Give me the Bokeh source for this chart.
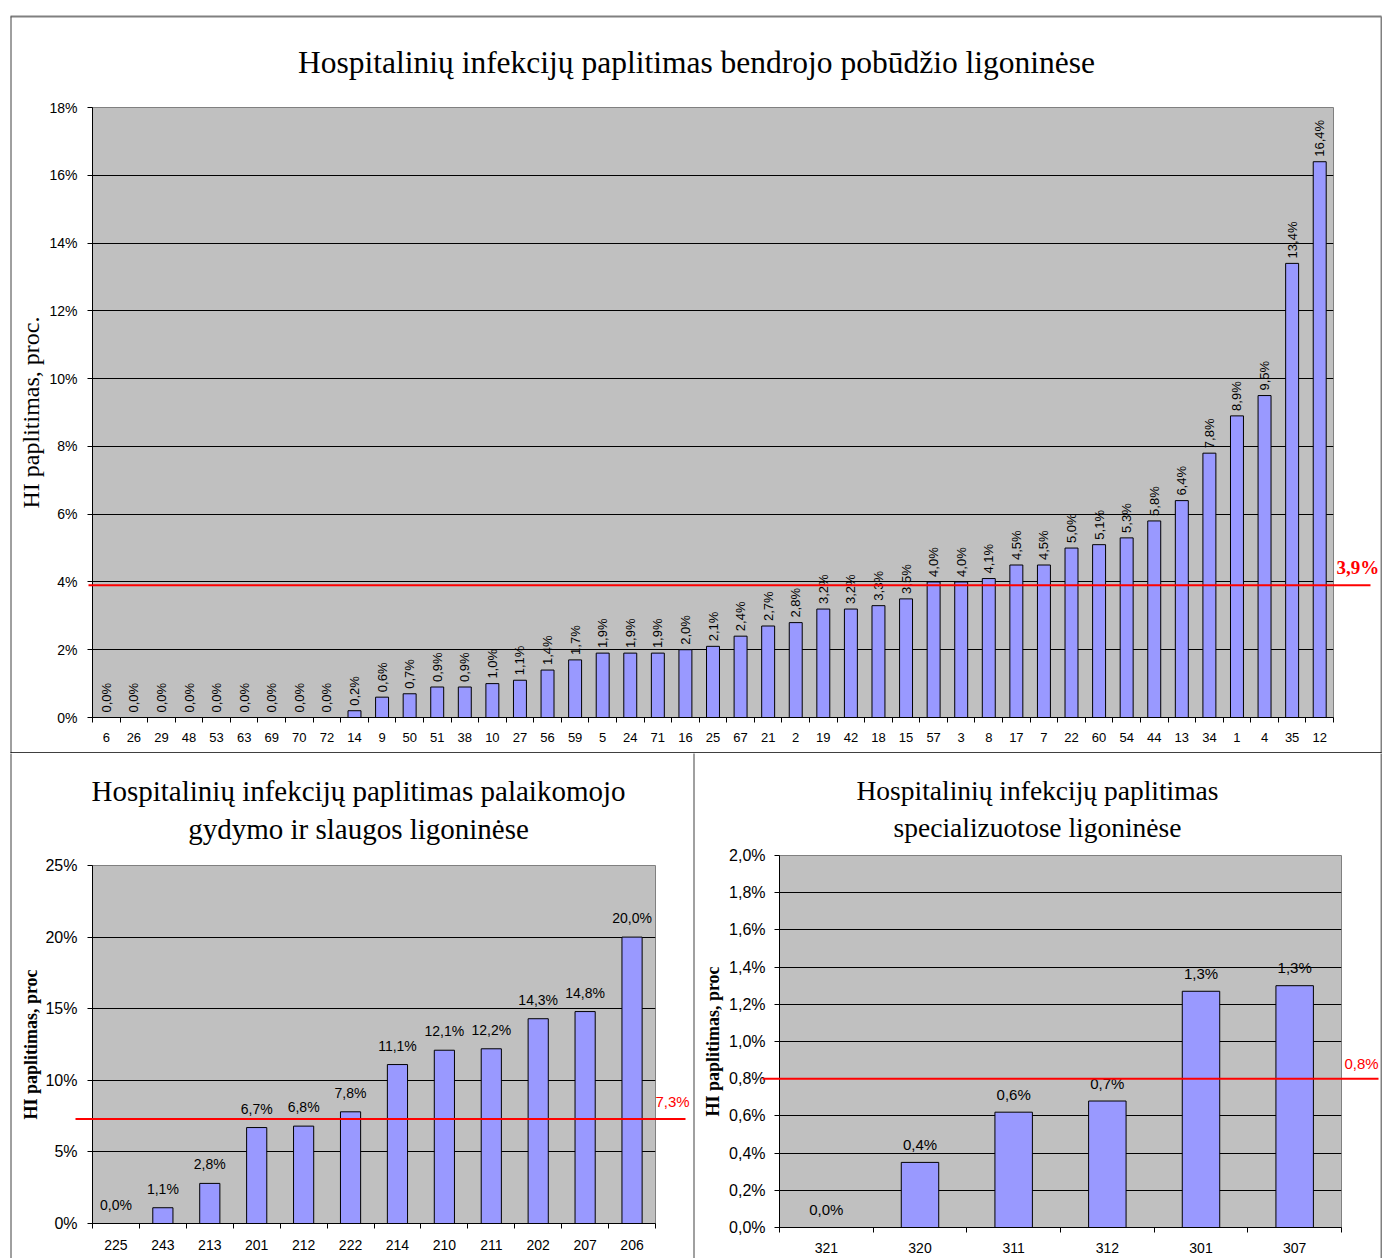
import math
from bokeh.plotting import figure
from bokeh.models import Range1d, FixedTicker, CustomJSTickFormatter, ColumnDataSource
from bokeh.layouts import column, row
from bokeh.core.properties import value
from bokeh.embed import file_html
from bokeh.resources import INLINE

# ---------------- data ----------------
gen_title = ["Hospitalinių infekcijų paplitimas bendrojo pobūdžio ligoninėse"]
gen_hospitals = ["6", "26", "29", "48", "53", "63", "69", "70", "72", "14", "9", "50", "51",
                 "38", "10", "27", "56", "59", "5", "24", "71", "16", "25", "67", "21", "2",
                 "19", "42", "18", "15", "57", "3", "8", "17", "7", "22", "60", "54", "44",
                 "13", "34", "1", "4", "35", "12"]
gen_rates = [0.0, 0.0, 0.0, 0.0, 0.0, 0.0, 0.0, 0.0, 0.0, 0.2, 0.6, 0.7, 0.9,
             0.9, 1.0, 1.1, 1.4, 1.7, 1.9, 1.9, 1.9, 2.0, 2.1, 2.4, 2.7, 2.8,
             3.2, 3.2, 3.3, 3.5, 4.0, 4.0, 4.1, 4.5, 4.5, 5.0, 5.1, 5.3, 5.8,
             6.4, 7.8, 8.9, 9.5, 13.4, 16.4]
gen_mean = 3.9
gen_yticks = [0, 2, 4, 6, 8, 10, 12, 14, 16, 18]
gen_ylabel = "HI paplitimas, proc."

care_title = ["Hospitalinių infekcijų paplitimas palaikomojo", "gydymo ir slaugos ligoninėse"]
care_hospitals = ["225", "243", "213", "201", "212", "222", "214", "210", "211", "202", "207", "206"]
care_rates = [0.0, 1.1, 2.8, 6.7, 6.8, 7.8, 11.1, 12.1, 12.2, 14.3, 14.8, 20.0]
care_mean = 7.3
care_yticks = [0, 5, 10, 15, 20, 25]
care_ylabel = "HI paplitimas, proc"

spec_title = ["Hospitalinių infekcijų paplitimas", "specializuotose ligoninėse"]
spec_hospitals = ["321", "320", "311", "312", "301", "307"]
spec_rates = [0.0, 0.35, 0.62, 0.68, 1.27, 1.30]
spec_rate_labels = ["0,0%", "0,4%", "0,6%", "0,7%", "1,3%", "1,3%"]
spec_mean = 0.8
spec_yticks = [0.0, 0.2, 0.4, 0.6, 0.8, 1.0, 1.2, 1.4, 1.6, 1.8, 2.0]
spec_ylabel = "HI paplitimas, proc"

SANS = "Liberation Sans"
SERIF = "Liberation Serif"


def pct(v):
    return f"{v:.1f}".replace(".", ",") + "%"


def make_chart(cats, vals, labels, yticks, mean, mean_label, ylabel, title_lines, g):
    fx, fy, W, H = g["fig"]
    L, R, T, B = g["frame"]
    n = len(cats)
    ymax = yticks[-1]
    p = figure(width=W, height=H, output_backend="svg", toolbar_location=None, title=None,
               x_range=Range1d(-0.5, n - 0.5), y_range=Range1d(0, ymax),
               min_border_left=L - fx, min_border_right=fx + W - R,
               min_border_top=T - fy, min_border_bottom=fy + H - B)

    def X(px):
        return -0.5 + (px - L) / (R - L) * n

    def Y(py):
        return (B - py) / (B - T) * ymax

    p.background_fill_color = "#C0C0C0"
    p.border_fill_color = "white"
    p.outline_line_color = "#808080"
    p.outline_line_width = 1
    p.xgrid.visible = False
    p.ygrid.grid_line_color = "black"
    p.ygrid.grid_line_width = 1

    # x axis: labels at category centres, tick marks between categories
    idx = list(range(n))
    p.xaxis.ticker = FixedTicker(ticks=idx, minor_ticks=[i - 0.5 for i in range(n + 1)])
    p.xaxis.formatter = CustomJSTickFormatter(
        args=dict(labels=cats),
        code="const i = Math.round(tick); return (i >= 0 && i < labels.length) ? labels[i] : '';")
    p.xaxis.axis_line_color = "black"
    p.xaxis.major_tick_line_color = None
    p.xaxis.major_tick_out = 0
    p.xaxis.major_tick_in = 0
    p.xaxis.minor_tick_line_color = "black"
    p.xaxis.minor_tick_out = 5
    p.xaxis.minor_tick_in = 0
    p.xaxis.major_label_standoff = g["xstand"]
    p.xaxis.major_label_text_font = SANS
    p.xaxis.major_label_text_font_size = g["xfs"]
    p.xaxis.major_label_text_color = "black"

    # y axis
    p.yaxis.ticker = FixedTicker(ticks=yticks)
    if g["ydec"]:
        p.yaxis.formatter = CustomJSTickFormatter(code="return tick.toFixed(1).replace('.', ',') + '%';")
    else:
        p.yaxis.formatter = CustomJSTickFormatter(code="return tick.toFixed(0) + '%';")
    p.yaxis.axis_line_color = "black"
    p.yaxis.major_tick_line_color = "black"
    p.yaxis.major_tick_out = 5
    p.yaxis.major_tick_in = 0
    p.yaxis.minor_tick_line_color = None
    p.yaxis.major_label_standoff = g["ystand"]
    p.yaxis.major_label_text_font = SANS
    p.yaxis.major_label_text_font_size = g["yfs"]
    p.yaxis.major_label_text_color = "black"
    p.yaxis.axis_label = ylabel
    p.yaxis.axis_label_text_font = SERIF
    p.yaxis.axis_label_text_font_size = g["ylfs"]
    p.yaxis.axis_label_text_font_style = g["ylstyle"]
    p.yaxis.axis_label_text_color = "black"
    p.yaxis.axis_label_standoff = g["ylstand"]

    src = ColumnDataSource(dict(x=idx, top=vals, label=labels))
    p.vbar(x="x", top="top", width=g["barw"], source=src,
           fill_color="#9999FF", line_color="black", line_width=1)

    if g["rot"]:
        p.text(x="x", y="top", text="label", source=src, angle=math.pi / 2,
               text_align="left", text_baseline="middle", y_offset=-g["loff"],
               text_font=value(SANS), text_font_size=g["lfs"], text_color="black")
    else:
        p.text(x="x", y="top", text="label", source=src,
               text_align="center", text_baseline="middle", y_offset=-g["loff"],
               text_font=value(SANS), text_font_size=g["lfs"], text_color="black")

    # mean line (extends beyond plot area)
    mx0, mx1 = g["meanx"]
    p.line(x=[X(mx0), X(mx1)], y=[mean, mean], line_color="#FF0000", line_width=2, level="annotation")
    lx, ly = g["meanlab"]
    p.text(x=[X(lx)], y=[Y(ly)], text=[mean_label], text_align="left", text_baseline="middle",
           text_font=value(g["mfont"]), text_font_size=g["mfs"], text_font_style=g["mstyle"],
           text_color="#FF0000", level="overlay")

    # title
    for (tx, ty), line in zip(g["titlepos"], title_lines):
        p.text(x=[X(tx)], y=[Y(ty)], text=[line], text_align="center", text_baseline="middle",
               text_font=value(SERIF), text_font_size=g["tfs"], text_color="black", level="overlay")

    # panel borders
    for (x0, y0, x1, y1, col, w) in g["borders"]:
        p.segment(x0=[X(x0)], y0=[Y(y0)], x1=[X(x1)], y1=[Y(y1)], line_color=col, line_width=w,
                  level="overlay")
    return p


G_TOP = dict(fig=(0, 0, 1382, 753), frame=(92, 1333, 107, 717), xstand=10, xfs="13px",
             ydec=False, ystand=10, yfs="14px", ylfs="24px", ylstyle="normal", ylstand=2,
             barw=0.47, rot=True, lfs="13px", loff=5,
             meanx=(88, 1370), meanlab=(1336, 567), mfont=SERIF, mfs="19px", mstyle="bold",
             titlepos=[(696, 62)], tfs="31.5px",
             borders=[(10, 16, 1381, 16, "#808080", 2), (10.5, 16, 10.5, 753, "#404040", 1),
                      (1381, 16, 1381, 753, "#808080", 2), (10, 752.5, 1381, 752.5, "black", 1.5)])

G_CARE = dict(fig=(0, 753, 693, 505), frame=(92, 655, 865, 1223), xstand=11, xfs="14px",
              ydec=False, ystand=10, yfs="16px", ylfs="18px", ylstyle="bold", ylstand=1,
              barw=0.43, rot=False, lfs="14px", loff=19,
              meanx=(75, 685), meanlab=(655, 1101), mfont=SANS, mfs="15px", mstyle="normal",
              titlepos=[(358, 790), (358, 828)], tfs="29px",
              borders=[(10.5, 753, 10.5, 1258, "#404040", 1)])

G_SPEC = dict(fig=(693, 753, 689, 505), frame=(779, 1341, 855, 1227), xstand=10, xfs="14px",
              ydec=True, ystand=9, yfs="16px", ylfs="18px", ylstyle="bold", ylstand=3,
              barw=0.4, rot=False, lfs="15px", loff=18,
              meanx=(762, 1378), meanlab=(1344, 1063), mfont=SANS, mfs="15px", mstyle="normal",
              titlepos=[(1037, 790), (1037, 827)], tfs="27.5px",
              borders=[(693.5, 753, 693.5, 1258, "#808080", 1.5), (1381, 753, 1381, 1258, "#808080", 2)])

p_gen = make_chart(gen_hospitals, gen_rates, [pct(v) for v in gen_rates], gen_yticks,
                   gen_mean, pct(gen_mean), gen_ylabel, gen_title, G_TOP)
p_care = make_chart(care_hospitals, care_rates, [pct(v) for v in care_rates], care_yticks,
                    care_mean, pct(care_mean), care_ylabel, care_title, G_CARE)
p_spec = make_chart(spec_hospitals, spec_rates, spec_rate_labels, spec_yticks,
                    spec_mean, pct(spec_mean), spec_ylabel, spec_title, G_SPEC)

layout = column(p_gen, row(column(p_care), column(p_spec), spacing=0), spacing=0)
open("out.html", "w").write(file_html(layout, INLINE))
